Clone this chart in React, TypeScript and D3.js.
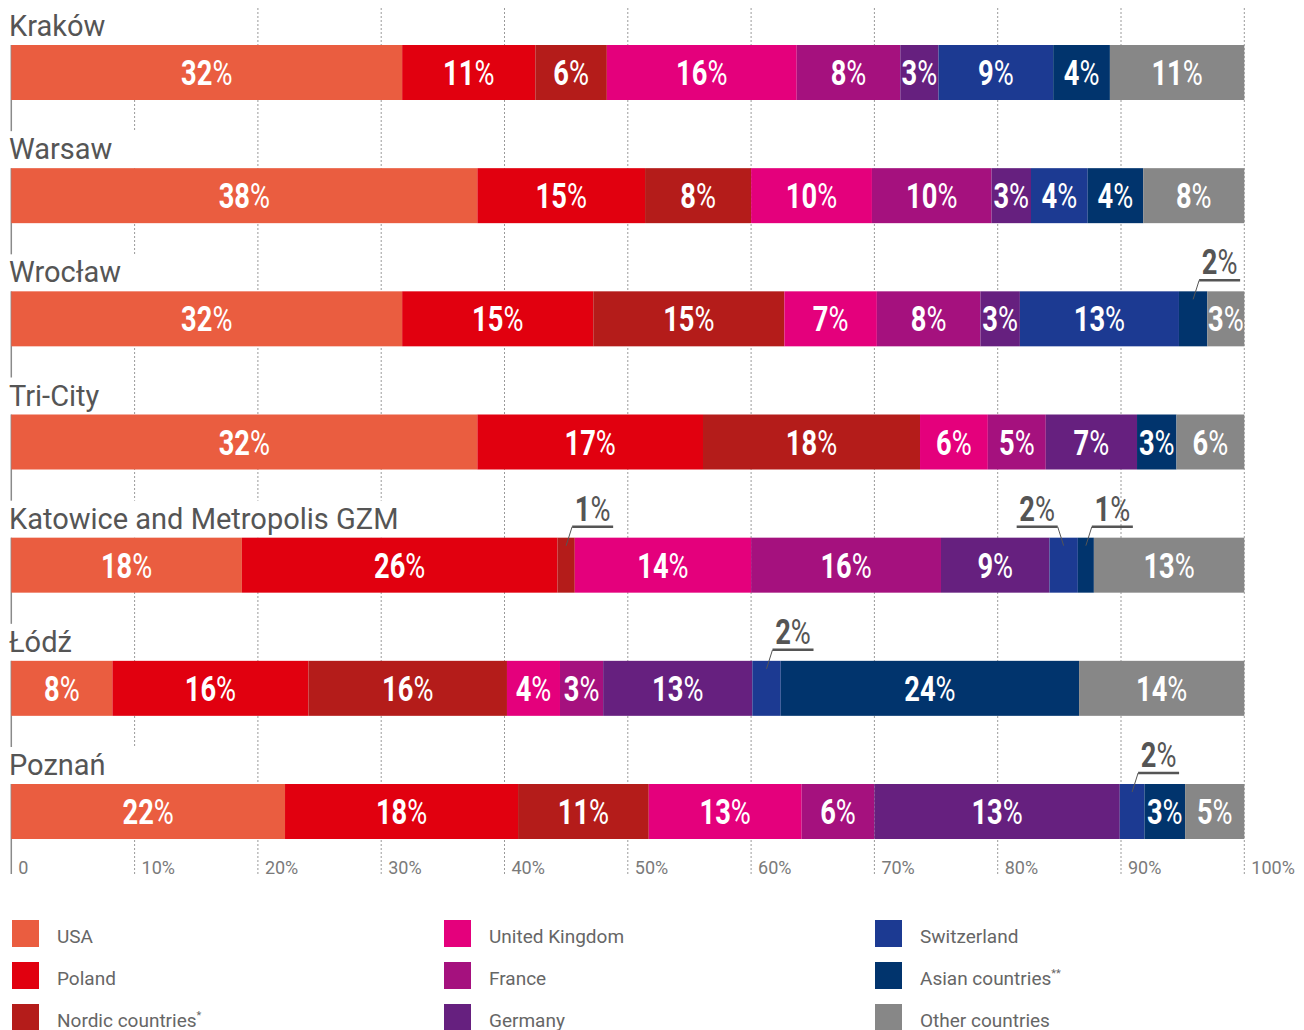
import React, { useEffect, useRef } from "react";
import * as d3 from "d3";

const cities = ["Kraków", "Warsaw", "Wrocław", "Tri-City", "Katowice and Metropolis GZM", "Łódź", "Poznań"];
const series = ["USA", "Poland", "Nordic countries", "United Kingdom", "France", "Germany", "Switzerland", "Asian countries", "Other countries"];
const legendMarks = ["", "", "*", "", "", "", "", "**", ""];
const colors = ["#EA5D40", "#E1000F", "#B41C1A", "#E4007C", "#A5117E", "#66207F", "#1C3A92", "#01346D", "#878787"];

// segment widths (share of total, %)
const krakowValues = [31.7, 10.8, 5.8, 15.4, 8.4, 3.1, 9.3, 4.6, 10.9];
const warsawValues = [37.8, 13.6, 8.6, 9.8, 9.7, 3.2, 4.6, 4.5, 8.2];
const wroclawValues = [31.7, 15.5, 15.5, 7.5, 8.4, 3.2, 12.9, 2.3, 3.0];
const tricityValues = [37.8, 18.3, 17.6, 5.5, 4.7, 7.4, 0, 3.2, 5.5];
const katowiceValues = [18.7, 25.6, 1.4, 14.3, 15.4, 8.8, 2.3, 1.3, 12.2];
const lodzValues = [8.2, 15.9, 16.1, 4.3, 3.5, 12.1, 2.3, 24.2, 13.4];
const poznanValues = [22.2, 18.9, 10.6, 12.4, 5.9, 19.9, 2.0, 3.3, 4.8];

// printed labels (null = no label inside the bar)
const krakowLabels = [32, 11, 6, 16, 8, 3, 9, 4, 11];
const warsawLabels = [38, 15, 8, 10, 10, 3, 4, 4, 8];
const wroclawLabels = [32, 15, 15, 7, 8, 3, 13, null, 3];
const tricityLabels = [32, 17, 18, 6, 5, 7, null, 3, 6];
const katowiceLabels = [18, 26, null, 14, 16, 9, null, null, 13];
const lodzLabels = [8, 16, 16, 4, 3, 13, null, 24, 14];
const poznanLabels = [22, 18, 11, 13, 6, 13, null, 3, 5];

const allValues = [krakowValues, warsawValues, wroclawValues, tricityValues, katowiceValues, lodzValues, poznanValues];
const allLabels = [krakowLabels, warsawLabels, wroclawLabels, tricityLabels, katowiceLabels, lodzLabels, poznanLabels];

// callout labels above the bar: city index, series index, text, direction
const calloutCity = [2, 4, 4, 4, 5, 6];
const calloutSeries = [7, 2, 6, 7, 6, 6];
const calloutText = [2, 1, 2, 1, 2, 2];
const calloutDir = [1, 1, -1, 1, 1, 1];

const ticks = [0, 10, 20, 30, 40, 50, 60, 70, 80, 90, 100];

export default function App() {
  const ref = useRef<SVGSVGElement | null>(null);

  useEffect(() => {
    const svg = d3.select(ref.current);
    svg.selectAll("*").remove();

    const x = d3.scaleLinear().domain([0, 100]).range([11.3, 1244.3]);
    const y = d3.scaleLinear().domain([0, cities.length - 1]).range([45, 784]);
    const barH = 55;

    const table = cities.map((c, i) => {
      const o: any = { city: c, idx: i };
      series.forEach((s, j) => (o[s] = allValues[i][j]));
      return o;
    });
    const stacked = d3.stack<any>().keys(series)(table);

    // gridlines
    svg.append("g")
      .selectAll("line")
      .data(ticks.filter((t) => t > 0))
      .join("line")
      .attr("x1", (d) => x(d))
      .attr("x2", (d) => x(d))
      .attr("y1", 8)
      .attr("y2", 876)
      .attr("stroke", "#9a9a9a")
      .attr("stroke-width", 1)
      .attr("stroke-dasharray", "2,2");

    // axis line
    svg.append("line")
      .attr("x1", x(0)).attr("x2", x(0))
      .attr("y1", 45).attr("y2", 874)
      .attr("stroke", "#8a8a8a").attr("stroke-width", 1.5);

    // tick labels
    svg.append("g")
      .selectAll("text")
      .data(ticks)
      .join("text")
      .attr("x", (d) => x(d) + 7)
      .attr("y", 874)
      .attr("font-family", "Roboto, sans-serif")
      .attr("font-size", 18)
      .attr("fill", "#7a7a7a")
      .text((d) => (d === 0 ? "0" : `${d}%`));

    // city labels with white background
    const cityG = svg.append("g");
    cities.forEach((c, i) => {
      const top = y(i);
      const rect = cityG.append("rect").attr("fill", "#fff");
      const t = cityG.append("text")
        .attr("x", 9)
        .attr("y", top - 9)
        .attr("font-family", "Roboto, sans-serif")
        .attr("font-size", 29)
        .attr("fill", "#555")
        .text(c);
      const w = (t.node() as SVGTextElement).getComputedTextLength();
      rect.attr("x", 0).attr("y", top - 37).attr("width", w + 40).attr("height", 37);
    });

    // bars
    const barsG = svg.append("g");
    stacked.forEach((layer, j) => {
      barsG.append("g")
        .attr("fill", colors[j])
        .selectAll("rect")
        .data(layer)
        .join("rect")
        .attr("x", (d) => x(d[0]))
        .attr("width", (d) => Math.max(0, x(d[1]) - x(d[0])))
        .attr("y", (d) => y(d.data.idx))
        .attr("height", barH);
    });

    // in-bar labels
    const labG = svg.append("g");
    stacked.forEach((layer, j) => {
      layer.forEach((d) => {
        const i = d.data.idx;
        const lab = allLabels[i][j];
        if (lab === null || lab === undefined) return;
        const cx = (x(d[0]) + x(d[1])) / 2;
        const g = labG.append("g").attr("transform", `translate(${cx},${y(i) + 40}) scale(0.78,1)`);
        const t = g.append("text")
          .attr("text-anchor", "middle")
          .attr("font-family", "Roboto, sans-serif")
          .attr("font-size", 35)
          .attr("font-weight", 700)
          .attr("fill", "#fff");
        t.append("tspan").text(String(lab));
        t.append("tspan").attr("font-weight", 400).text("%");
      });
    });

    // callouts
    const callG = svg.append("g");
    calloutCity.forEach((ci, k) => {
      const sj = calloutSeries[k];
      const d = stacked[sj][ci];
      const cx = (x(d[0]) + x(d[1])) / 2;
      const top = y(ci);
      const dir = calloutDir[k];
      const hx0 = cx + dir * 6;
      const hx1 = hx0 + dir * 41;
      callG.append("line")
        .attr("x1", cx).attr("y1", top + 8)
        .attr("x2", hx0).attr("y2", top - 11)
        .attr("stroke", "#555").attr("stroke-width", 1);
      callG.append("line")
        .attr("x1", hx0).attr("y1", top - 11)
        .attr("x2", hx1).attr("y2", top - 11)
        .attr("stroke", "#555").attr("stroke-width", 2.5);
      const g = callG.append("g").attr("transform", `translate(${(hx0 + hx1) / 2},${top - 17}) scale(0.78,1)`);
      const t = g.append("text")
        .attr("text-anchor", "middle")
        .attr("font-family", "Roboto, sans-serif")
        .attr("font-size", 35)
        .attr("font-weight", 700)
        .attr("fill", "#555");
      t.append("tspan").text(String(calloutText[k]));
      t.append("tspan").attr("font-weight", 400).text("%");
    });

    // legend
    const legG = svg.append("g");
    const colX = [12, 444, 875];
    series.forEach((s, j) => {
      const col = Math.floor(j / 3);
      const row = j % 3;
      const gx = colX[col];
      const gy = 920 + row * 42;
      legG.append("rect")
        .attr("x", gx).attr("y", gy).attr("width", 27).attr("height", 27)
        .attr("fill", colors[j]);
      const t = legG.append("text")
        .attr("x", gx + 45)
        .attr("y", gy + 23)
        .attr("font-family", "Roboto, sans-serif")
        .attr("font-size", 19)
        .attr("fill", "#666")
        .text(s);
      if (legendMarks[j]) {
        t.append("tspan").attr("font-size", 11).attr("dy", -8).text(legendMarks[j]);
      }
    });
  }, []);

  return (
    <svg
      ref={ref}
      width={1304}
      height={1030}
      style={{ position: "absolute", left: 0, top: 0, background: "#fff" }}
    />
  );
}
